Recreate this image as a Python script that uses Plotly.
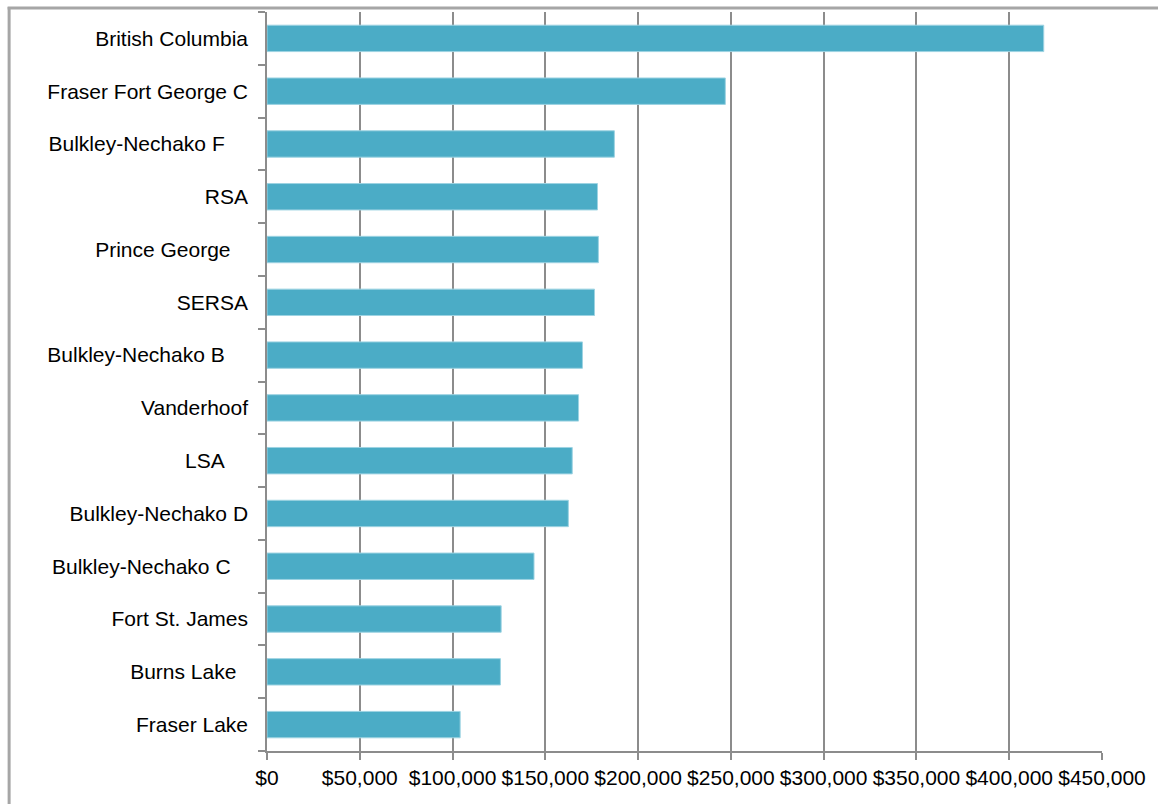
import plotly.graph_objects as go

# Regions, top to bottom
regions = [
    "British Columbia",
    "Fraser Fort George C",
    "Bulkley-Nechako F",
    "RSA",
    "Prince George",
    "SERSA",
    "Bulkley-Nechako B",
    "Vanderhoof",
    "LSA",
    "Bulkley-Nechako D",
    "Bulkley-Nechako C",
    "Fort St. James",
    "Burns Lake",
    "Fraser Lake",
]

# Dollar values per region
values = [
    418600, 247000, 187200, 178100, 178600, 176500, 170000,
    167900, 164500, 162400, 143900, 126200, 125800, 104100,
]

# Trailing padding used on some category labels
label_pad = [0, 0, 4, 0, 3, 0, 4, 0, 4, 0, 3, 0, 2, 0]

x_ticks = [0, 50000, 100000, 150000, 200000, 250000, 300000, 350000, 400000, 450000]
x_tick_text = ["$0", "$50,000", "$100,000", "$150,000", "$200,000",
               "$250,000", "$300,000", "$350,000", "$400,000", "$450,000"]

tick_labels = [r + "\u00a0" * p for r, p in zip(regions, label_pad)]

BAR = "#4BACC6"
GRID = "#8c8c8c"
FRAME = "#a6a6a6"
FONT = "Liberation Sans, Arial, sans-serif"
FS = 21

fig = go.Figure(
    go.Bar(
        x=values,
        y=regions,
        orientation="h",
        marker=dict(color=BAR, line=dict(color="#9dd3e2", width=1)),
        hoverinfo="x+y",
    )
)

W, H = 1158, 804
ML, MR, MT, MB = 267, 54, 12, 53
pw, ph = W - ML - MR, H - MT - MB


def px_to_paper_x(px):
    return (px - ML) / pw


def py_to_paper_y(py):
    return (H - MB - py) / ph


fig.update_layout(
    width=W,
    height=H,
    margin=dict(l=ML, r=MR, t=MT, b=MB),
    paper_bgcolor="white",
    plot_bgcolor="white",
    bargap=0.5,
    showlegend=False,
    font=dict(family=FONT, size=FS, color="#000000"),
    xaxis=dict(
        range=[0, 450000],
        tickvals=x_ticks,
        ticktext=x_tick_text,
        showgrid=True,
        gridcolor=GRID,
        gridwidth=1.5,
        zeroline=False,
        showline=True,
        linecolor=GRID,
        linewidth=1.5,
        ticks="outside",
        ticklen=7,
        tickwidth=1.5,
        tickcolor=GRID,
        tickfont=dict(family=FONT, size=FS, color="#000000"),
        fixedrange=True,
    ),
    yaxis=dict(
        categoryorder="array",
        categoryarray=regions,
        autorange="reversed",
        tickvals=regions,
        ticktext=tick_labels,
        tickson="boundaries",
        ticks="outside",
        ticklen=7,
        tickwidth=1.5,
        tickcolor=GRID,
        ticklabelstandoff=13,
        showline=True,
        linecolor=GRID,
        linewidth=1.5,
        showgrid=False,
        tickfont=dict(family=FONT, size=FS, color="#000000"),
        fixedrange=True,
    ),
    shapes=[
        dict(type="line", xref="paper", yref="paper",
             x0=px_to_paper_x(8.5), x1=px_to_paper_x(8.5),
             y0=py_to_paper_y(7), y1=py_to_paper_y(H + 5),
             line=dict(color=FRAME, width=3)),
        dict(type="line", xref="paper", yref="paper",
             x0=px_to_paper_x(7), x1=px_to_paper_x(W + 5),
             y0=py_to_paper_y(8), y1=py_to_paper_y(8),
             line=dict(color=FRAME, width=3)),
    ],
)

fig.write_html("out.html")
